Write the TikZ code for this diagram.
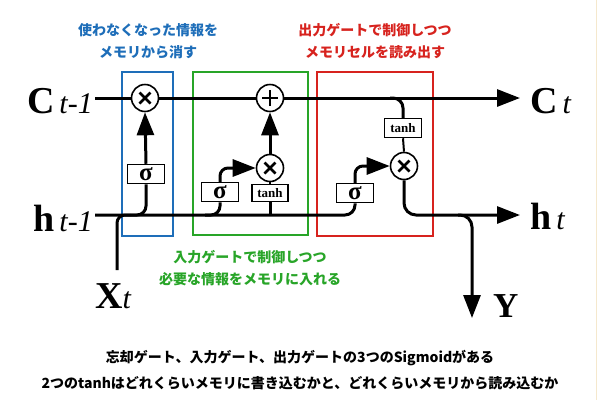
\documentclass[tikz,border=0pt]{standalone}
\usepackage{fontspec}
\setmainfont{Liberation Serif}
\newfontfamily\jp{Noto Sans CJK JP}
\usetikzlibrary{arrows.meta}
\definecolor{gblue}{RGB}{30,110,185}
\definecolor{ggreen}{RGB}{40,165,40}
\definecolor{gred}{RGB}{215,35,30}
\definecolor{edge}{RGB}{245,232,205}
\begin{document}
\begin{tikzpicture}[x=1pt,y=-1pt,
  flow/.style={line width=3pt},
  thinflow/.style={line width=2pt},
  arr/.style={-{Triangle[length=23pt,width=17pt]}},
  op/.style={circle,draw,line width=1.6pt,fill=white,minimum size=27pt,inner sep=0pt},
  mult/.style={op,path picture={
      \draw[line width=2.6pt]
        ([shift={(-5.5pt,-5.5pt)}]path picture bounding box.center) -- ([shift={(5.5pt,5.5pt)}]path picture bounding box.center)
        ([shift={(-5.5pt,5.5pt)}]path picture bounding box.center) -- ([shift={(5.5pt,-5.5pt)}]path picture bounding box.center);}},
  plus/.style={op,path picture={
      \draw[line width=2.6pt]
        ([shift={(-8pt,0pt)}]path picture bounding box.center) -- ([shift={(8pt,0pt)}]path picture bounding box.center)
        ([shift={(0pt,-8pt)}]path picture bounding box.center) -- ([shift={(0pt,8pt)}]path picture bounding box.center);}},
  sigbox/.style={draw,line width=1.5pt,fill=white,inner sep=0pt,minimum width=37pt,minimum height=19pt,font=\bfseries\fontsize{25}{25}\selectfont},
  tanhbox/.style={draw,line width=1.5pt,fill=white,inner sep=0pt,minimum width=36pt,minimum height=17pt,font=\bfseries\fontsize{13}{13}\selectfont},
  region/.style={line width=2pt},
  note/.style={font=\jp\bfseries\fontsize{14}{21.5}\selectfont,align=center},
  bignote/.style={font=\jp\bfseries\fontsize{14}{26}\selectfont,align=center,text=black}]
\useasboundingbox (0,0) rectangle (600,400);
\fill[white] (0,0) rectangle (600,400);
\draw[edge,line width=1.5pt] (596.5,0) -- (596.5,400);

% region frames
\draw[region,gblue] (122,72) rectangle (173,236);
\draw[region,ggreen] (193,72) rectangle (308,235);
\draw[region,gred] (317,72) rectangle (433,236);

% coordinates
\coordinate (cin) at (95,98);
\coordinate (cout) at (520,98);
\coordinate (hin) at (95,215);
\coordinate (hout) at (520,215);
\coordinate (hf) at (130,215);
\coordinate (hg) at (205,215);
\coordinate (cb) at (390,98);
\coordinate (yb) at (458,215);
\coordinate (yend) at (472,318);
\coordinate (xb) at (117,270);
\coordinate (xj) at (130,215);

% operation nodes
\node[mult] (f) at (145,98) {};
\node[plus] (p) at (270,98) {};
\node[mult] (im) at (270,168) {};
\node[mult] (om) at (404,166) {};
\node[sigbox] (sf) at (146,174) {σ};
\node[sigbox] (si) at (220,192) {σ};
\node[tanhbox] (ti) at (270,193) {tanh};
\node[tanhbox,minimum width=37pt,minimum height=19pt] (to) at (403,128) {tanh};
\node[sigbox] (so) at (355,193) {σ};

% cell state
\draw[flow] (cin) -- (f.west);
\draw[flow] (f.east) -- (p.west);
\draw[flow,arr] (p.east) -- (cout);

% hidden line
\draw[flow,rounded corners=10pt] (hin) -| (so.south);
\draw[flow,rounded corners=9pt] (hf) -| (sf.south);
\draw[flow,rounded corners=9pt] (hg) -| (si.south);
\draw[flow] (ti.south) -- (ti.south |- hin);
\draw[flow,rounded corners=8pt] (xb) |- (xj);

% forget gate
\draw[flow,arr] (sf.north) -- (f.south);

% input gate
\draw[thinflow] (im.south) -- (ti.north);
\draw[flow,arr] (im.north) -- (p.south);
\draw[flow,arr,rounded corners=8pt] (si.north) |- (im.west);

% output gate
\draw[flow,rounded corners=10pt] (cb) -| (to.north);
\draw[thinflow] (to.south) -- (om.north);
\draw[flow,arr,rounded corners=8pt] (so.north) |- (om.west);
\draw[flow,arr,rounded corners=12pt] (om.south) |- (hout);
\draw[flow,arr,rounded corners=12pt] (yb) -| (yend);

% big labels
\node[anchor=base east,inner sep=0pt] (lcin) at (93,113) {\fontsize{38}{38}\selectfont\bfseries C\fontsize{30}{30}\selectfont\mdseries\itshape\,t-1};
\node[anchor=base west,inner sep=0pt] (lcout) at (530,113) {\fontsize{38}{38}\selectfont\bfseries C\fontsize{30}{30}\selectfont\mdseries\itshape\,t};
\node[anchor=base east,inner sep=0pt] (lhin) at (93,231) {\fontsize{38}{38}\selectfont\bfseries h\fontsize{30}{30}\selectfont\mdseries\itshape\,t-1};
\node[anchor=base west,inner sep=0pt] (lhout) at (530,229) {\fontsize{38}{38}\selectfont\bfseries h\fontsize{30}{30}\selectfont\mdseries\itshape\,t};
\node[anchor=base west,inner sep=0pt] (lx) at (95,308) {\fontsize{38}{38}\selectfont\bfseries X\fontsize{30}{30}\selectfont\mdseries\itshape t};
\node[anchor=base west,inner sep=0pt] (ly) at (493,317) {\fontsize{35}{35}\selectfont\bfseries Y};

% notes
\node[note,text=gblue] (nf) at (148,41) {使わなくなった情報を\\メモリから消す};
\node[note,text=gred] (no) at (375,41) {出力ゲートで制御しつつ\\メモリセルを読み出す};
\node[note,text=ggreen] (ni) at (250,268) {入力ゲートで制御しつつ\\必要な情報をメモリに入れる};
\node[bignote] (nb) at (300,370) {忘却ゲート、入力ゲート、出力ゲートの3つのSigmoidがある\\2つのtanhはどれくらいメモリに書き込むかと、どれくらいメモリから読み込むか};
\end{tikzpicture}
\end{document}
